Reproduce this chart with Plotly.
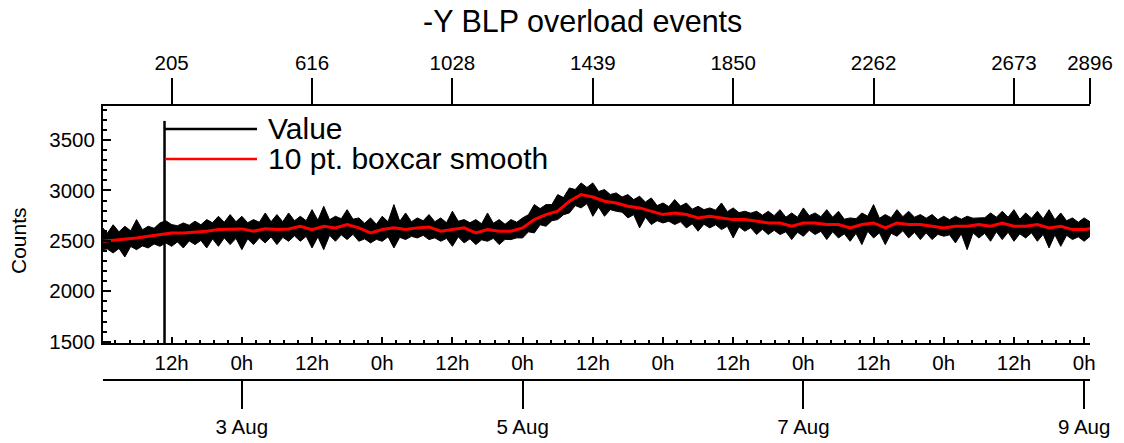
import pandas as pd
import plotly.graph_objects as go

# ---------------- data ----------------
t_start = "2021-08-02 00:00"

# envelope of the raw "Value" series, one value per hour
value_upper = [2645, 2575, 2660, 2590, 2645, 2600, 2711, 2610, 2645, 2625,
               2678, 2700, 2662, 2650, 2678, 2655, 2695, 2660, 2711, 2680,
               2744, 2685, 2761, 2690, 2744, 2680, 2711, 2685, 2777, 2690,
               2761, 2690, 2777, 2700, 2744, 2700, 2810, 2705, 2843, 2710,
               2744, 2720, 2810, 2715, 2728, 2675, 2728, 2665, 2744, 2690,
               2860, 2695, 2777, 2690, 2728, 2700, 2761, 2690, 2728, 2680,
               2794, 2695, 2711, 2680, 2711, 2670, 2777, 2675, 2711, 2665,
               2711, 2685, 2728, 2760, 2860, 2820, 2860, 2860, 2959, 2930,
               3025, 3010, 3075, 3030, 3075, 2990, 3009, 2960, 2976, 2935,
               2959, 2910, 2943, 2885, 2926, 2850, 2876, 2840, 2910, 2845,
               2876, 2815, 2843, 2810, 2827, 2805, 2876, 2790, 2827, 2780,
               2794, 2775, 2794, 2755, 2794, 2750, 2810, 2735, 2777, 2735,
               2827, 2750, 2777, 2740, 2810, 2735, 2794, 2715, 2728, 2720,
               2777, 2745, 2860, 2725, 2761, 2730, 2810, 2740, 2794, 2735,
               2761, 2725, 2761, 2710, 2744, 2710, 2744, 2715, 2744, 2725,
               2728, 2730, 2777, 2735, 2794, 2735, 2810, 2715, 2777, 2725,
               2794, 2720, 2810, 2710, 2777, 2700, 2728, 2685, 2728, 2690,
               2700]
value_lower = [2413, 2420, 2380, 2425, 2340, 2445, 2413, 2450, 2430, 2470,
               2446, 2480, 2446, 2490, 2430, 2500, 2463, 2505, 2430, 2520,
               2446, 2530, 2463, 2525, 2413, 2520, 2463, 2530, 2480, 2540,
               2463, 2535, 2496, 2550, 2496, 2545, 2430, 2540, 2413, 2555,
               2496, 2560, 2513, 2565, 2496, 2520, 2480, 2515, 2496, 2540,
               2430, 2535, 2513, 2545, 2529, 2555, 2513, 2530, 2496, 2525,
               2446, 2540, 2480, 2520, 2463, 2510, 2496, 2525, 2463, 2515,
               2513, 2530, 2529, 2590, 2579, 2660, 2645, 2700, 2711, 2760,
               2777, 2850, 2827, 2870, 2744, 2835, 2744, 2810, 2794, 2785,
               2728, 2760, 2629, 2735, 2662, 2700, 2678, 2695, 2662, 2690,
               2629, 2670, 2596, 2665, 2629, 2660, 2612, 2645, 2529, 2640,
               2596, 2630, 2563, 2615, 2563, 2605, 2563, 2590, 2513, 2585,
               2546, 2605, 2563, 2595, 2513, 2590, 2529, 2570, 2496, 2575,
               2463, 2595, 2529, 2580, 2463, 2575, 2546, 2600, 2529, 2585,
               2513, 2580, 2513, 2565, 2546, 2560, 2480, 2570, 2413, 2580,
               2529, 2575, 2496, 2590, 2513, 2585, 2496, 2570, 2529, 2580,
               2496, 2565, 2430, 2560, 2446, 2555, 2513, 2540, 2496, 2545,
               2550]
value_times = pd.date_range(t_start, periods=len(value_upper), freq="1h")

# 10 pt. boxcar smooth, one value per 2 hours
smooth = [2496, 2506, 2513, 2529, 2546, 2562, 2579, 2579, 2586, 2596,
          2612, 2612, 2619, 2596, 2620, 2612, 2619, 2645, 2612, 2645,
          2629, 2662, 2629, 2579, 2612, 2629, 2612, 2629, 2637, 2596,
          2612, 2629, 2579, 2612, 2596, 2596, 2629, 2711, 2761, 2794,
          2893, 2959, 2935, 2893, 2876, 2844, 2827, 2794, 2761, 2777,
          2761, 2728, 2744, 2728, 2711, 2711, 2695, 2678, 2678, 2645,
          2678, 2678, 2662, 2662, 2629, 2662, 2678, 2629, 2678, 2662,
          2662, 2645, 2629, 2645, 2645, 2662, 2645, 2678, 2645, 2645,
          2662, 2629, 2645, 2612, 2612, 2629]
smooth_times = pd.date_range(t_start, periods=len(smooth), freq="2h")

# single glitch point that drops to the bottom of the scale and up again
glitch_times = ["2021-08-02 10:47", "2021-08-02 10:47"]
glitch_counts = [1480, 3690]

hour_ticks = list(pd.date_range("2021-08-02 12:00", "2021-08-09 00:00", freq="12h"))
hour_labels = [f"{d.hour}h" for d in hour_ticks]

top_tick_times = ["2021-08-02 12:00", "2021-08-03 12:00", "2021-08-04 12:00",
                  "2021-08-05 12:00", "2021-08-06 12:00", "2021-08-07 12:00",
                  "2021-08-08 12:00", "2021-08-09 01:00"]
top_tick_labels = ["205", "616", "1028", "1439", "1850", "2262", "2673", "2896"]

date_tick_times = ["2021-08-03", "2021-08-05", "2021-08-07", "2021-08-09"]
date_tick_labels = ["3 Aug", "5 Aug", "7 Aug", "9 Aug"]

x_range = ["2021-08-02 00:16", "2021-08-09 01:00"]
y_range = [1487, 3838]

title_text = "-Y BLP overload events"
y_title = "Counts"
legend_names = ["Value", "10 pt. boxcar smooth"]

# ---------------- figure ----------------
FONT = "Liberation Sans, Arial, Helvetica, sans-serif"
W, H = 1124, 443
L, R, T, B = 103, 34, 106, 63
PW, PH = W - L - R, H - T - B


def px(x):   # window pixel -> paper fraction
    return (x - L) / PW


def py(y):
    return (H - B - y) / PH


fig = go.Figure()
fig.add_trace(go.Scatter(x=value_times, y=value_upper, mode="lines",
                         line=dict(color="black", width=1), showlegend=False,
                         hoverinfo="skip"))
fig.add_trace(go.Scatter(x=value_times, y=value_lower, mode="lines",
                         line=dict(color="black", width=1), fill="tonexty",
                         fillcolor="black", name=legend_names[0], showlegend=False))
fig.add_trace(go.Scatter(x=glitch_times, y=glitch_counts, mode="lines",
                         line=dict(color="black", width=2.5), showlegend=False,
                         hoverinfo="skip"))
fig.add_trace(go.Scatter(x=smooth_times, y=smooth, mode="lines",
                         line=dict(color="#ff0000", width=3),
                         name=legend_names[1], showlegend=False))
# invisible helpers so the extra axes are drawn
fig.add_trace(go.Scatter(x=top_tick_times, y=[None] * len(top_tick_times),
                         xaxis="x2", yaxis="y", mode="lines", showlegend=False,
                         hoverinfo="skip"))
fig.add_trace(go.Scatter(x=date_tick_times, y=[None] * len(date_tick_times),
                         xaxis="x3", yaxis="y", mode="lines", showlegend=False,
                         hoverinfo="skip"))

axis_common = dict(showline=True, linecolor="black", linewidth=2, showgrid=False,
                   zeroline=False, tickcolor="black", automargin=False,
                   tickfont=dict(family=FONT, size=20.5, color="black"))

fig.update_layout(
    width=W, height=H,
    margin=dict(l=L, r=R, t=T, b=B, pad=0, autoexpand=False),
    paper_bgcolor="white", plot_bgcolor="white",
    showlegend=False,
    font=dict(family=FONT, color="black"),
    xaxis=dict(axis_common, type="date", range=x_range, anchor="y",
               tickmode="array", tickvals=hour_ticks, ticktext=hour_labels,
               ticks="inside", ticklen=6, tickwidth=1.5,
               minor=dict(dtick=8640000, tick0=t_start, ticks="inside",
                          ticklen=3, tickwidth=1.5, tickcolor="black")),
    xaxis2=dict(axis_common, type="date", range=x_range, overlaying="x",
                side="top", anchor="y", tickmode="array",
                tickvals=top_tick_times, ticktext=top_tick_labels,
                ticks="outside", ticklen=26, tickwidth=2),
    xaxis3=dict(axis_common, type="date", range=x_range, overlaying="x",
                side="bottom", anchor="free", position=0, tickmode="array",
                tickvals=date_tick_times, ticktext=date_tick_labels,
                ticks="outside", ticklen=28, tickwidth=2),
    yaxis=dict(axis_common, domain=[py(343), 1], range=y_range,
               tickmode="linear", tick0=1500, dtick=500,
               ticks="inside", ticklen=8, tickwidth=1.5, ticklabelstandoff=2,
               minor=dict(dtick=100, tick0=1500, ticks="inside", ticklen=4,
                          tickwidth=1.5, tickcolor="black")),
)

# title
fig.add_annotation(text=title_text, xref="paper", yref="paper",
                   x=px(582), y=py(21), showarrow=False,
                   xanchor="center", yanchor="middle",
                   font=dict(family=FONT, size=30.5, color="black"))
# y-axis title
fig.add_annotation(text=y_title, xref="paper", yref="paper",
                   x=px(18), y=py(241), textangle=-90,
                   showarrow=False, xanchor="center", yanchor="middle",
                   font=dict(family=FONT, size=21, color="black"))

# manual legend (long sample lines like the original)
for name, color, ly in [(legend_names[0], "black", 129), (legend_names[1], "#ff0000", 159)]:
    fig.add_shape(type="line", xref="paper", yref="paper", x0=px(165), x1=px(257),
                  y0=py(ly), y1=py(ly), line=dict(color=color, width=2.5))
    fig.add_annotation(text=name, xref="paper", yref="paper", x=px(266), y=py(ly - 1),
                       showarrow=False, xanchor="left", yanchor="middle",
                       font=dict(family=FONT, size=30, color="black"))

# remove the default 8px page margin so the figure fills the window exactly
fig.write_html("out.html",
               config={"displayModeBar": False},
               post_script="document.body.style.margin='0px';"
                           "document.body.style.overflow='hidden';")
